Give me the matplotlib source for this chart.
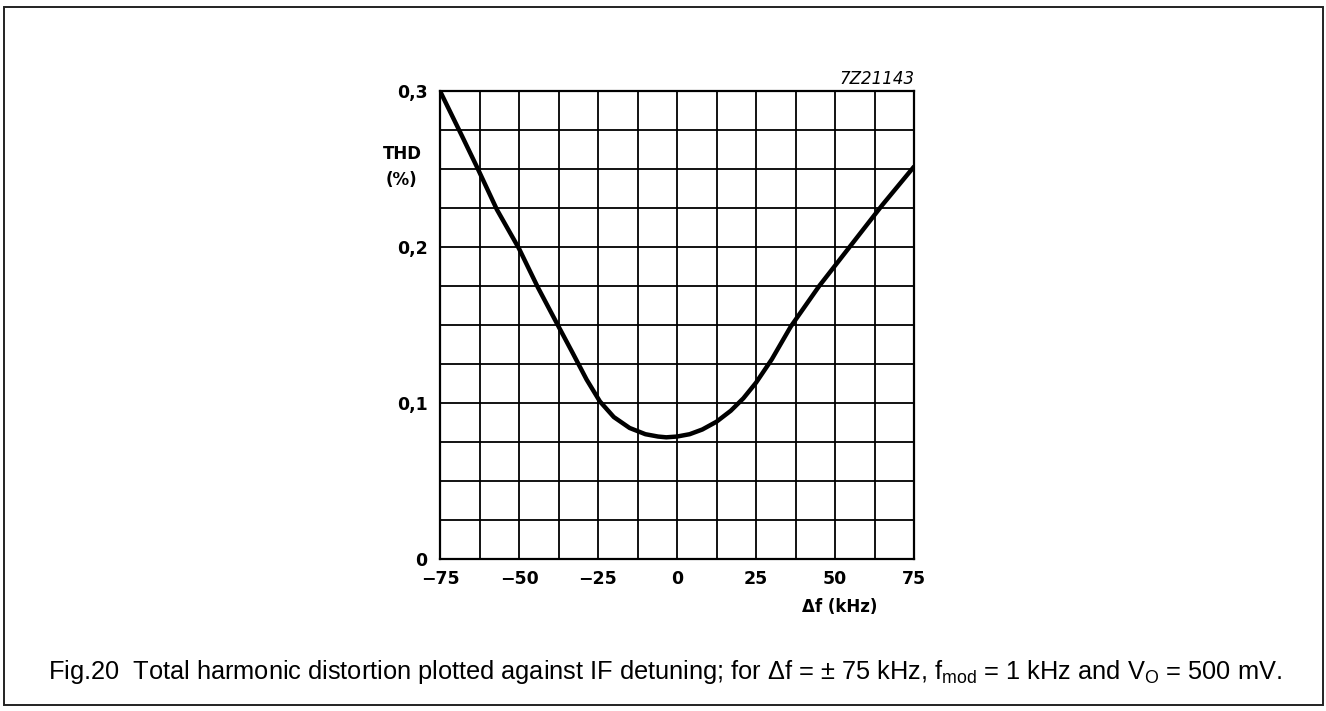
import matplotlib

matplotlib.use("Agg")
import matplotlib.pyplot as plt
import numpy as np
from matplotlib.patches import Rectangle

plt.rcParams["mathtext.fontset"] = "custom"
plt.rcParams["mathtext.rm"] = "Liberation Sans"

# ── Data ─────────────────────────────────────────────────────────────────────
detune_khz = [-75, -68, -63, -57, -50, -44, -38, -33, -28.6, -24.4, -20, -15,
              -10, -6, -3.4, 0, 4, 8, 12.5, 17, 21, 25, 30, 36, 45, 55, 65, 75]
thd_pct = [0.300, 0.271, 0.250, 0.224, 0.199, 0.174, 0.151, 0.132, 0.115,
           0.101, 0.091, 0.084, 0.080, 0.0785, 0.078, 0.0785, 0.080, 0.083,
           0.088, 0.095, 0.103, 0.113, 0.128, 0.149, 0.175, 0.201, 0.227,
           0.2515]

x_label_ticks = [-75, -50, -25, 0, 25, 50, 75]
x_tick_text = ["\u221275", "\u221250", "\u221225", "0", "25", "50", "75"]
y_label_ticks = [0, 0.1, 0.2, 0.3]
y_tick_text = ["0", "0,1", "0,2", "0,3"]

W, H = 1326, 711


def fx(px):
    return px / W


def fy(py):
    return 1 - py / H


fig = plt.figure(figsize=(W / 100, H / 100), dpi=100)
fig.patch.set_facecolor("white")

# outer frame
fig.patches.append(Rectangle((fx(4), fy(705)), fx(1323) - fx(4), fy(7) - fy(705),
                             transform=fig.transFigure, fill=False,
                             edgecolor="#222222", linewidth=1.4))

ax = fig.add_axes([fx(440), fy(559), fx(914) - fx(440), fy(91) - fy(559)])
ax.set_xlim(-75, 75)
ax.set_ylim(0, 0.3)

ax.set_xticks(np.arange(-75, 75.1, 12.5), minor=True)
ax.set_yticks(np.arange(0, 0.301, 0.025), minor=True)
ax.set_xticks(x_label_ticks)
ax.set_xticklabels(x_tick_text)
ax.set_yticks(y_label_ticks)
ax.set_yticklabels(y_tick_text)
ax.tick_params(which="both", length=0)
ax.tick_params(axis="x", pad=8)
ax.tick_params(axis="y", pad=9)
for lab in ax.get_xticklabels() + ax.get_yticklabels():
    lab.set_fontsize(12.5)
    lab.set_fontweight("bold")

ax.grid(which="both", color="black", linewidth=1.3)
ax.set_axisbelow(True)
for s in ax.spines.values():
    s.set_linewidth(1.6)
    s.set_color("black")

ax.plot(detune_khz, thd_pct, color="black", linewidth=3.2,
        solid_capstyle="round", solid_joinstyle="round", zorder=3)

# axis captions placed like the data sheet
fig.text(fx(402), fy(154), "THD", ha="center", va="center",
         fontsize=12, fontweight="bold")
fig.text(fx(401), fy(180), "(%)", ha="center", va="center",
         fontsize=12, fontweight="bold")
fig.text(fx(877), fy(607), "\u0394f (kHz)", ha="right", va="center",
         fontsize=12, fontweight="bold")
fig.text(fx(915), fy(84), "7Z21143", ha="right", va="baseline",
         fontsize=12, style="italic")

fig.text(fx(48), fy(679),
         "Fig.20  Total harmonic distortion plotted against IF detuning; "
         "for \u0394f = \u00b1 75 kHz, f$_{\\rm mod}$ = 1 kHz and "
         "V$_{\\rm O}$ = 500 mV.",
         ha="left", va="baseline", fontsize=18.3, family="Liberation Sans")

fig.savefig("out.png", dpi=100)
plt.close(fig)
